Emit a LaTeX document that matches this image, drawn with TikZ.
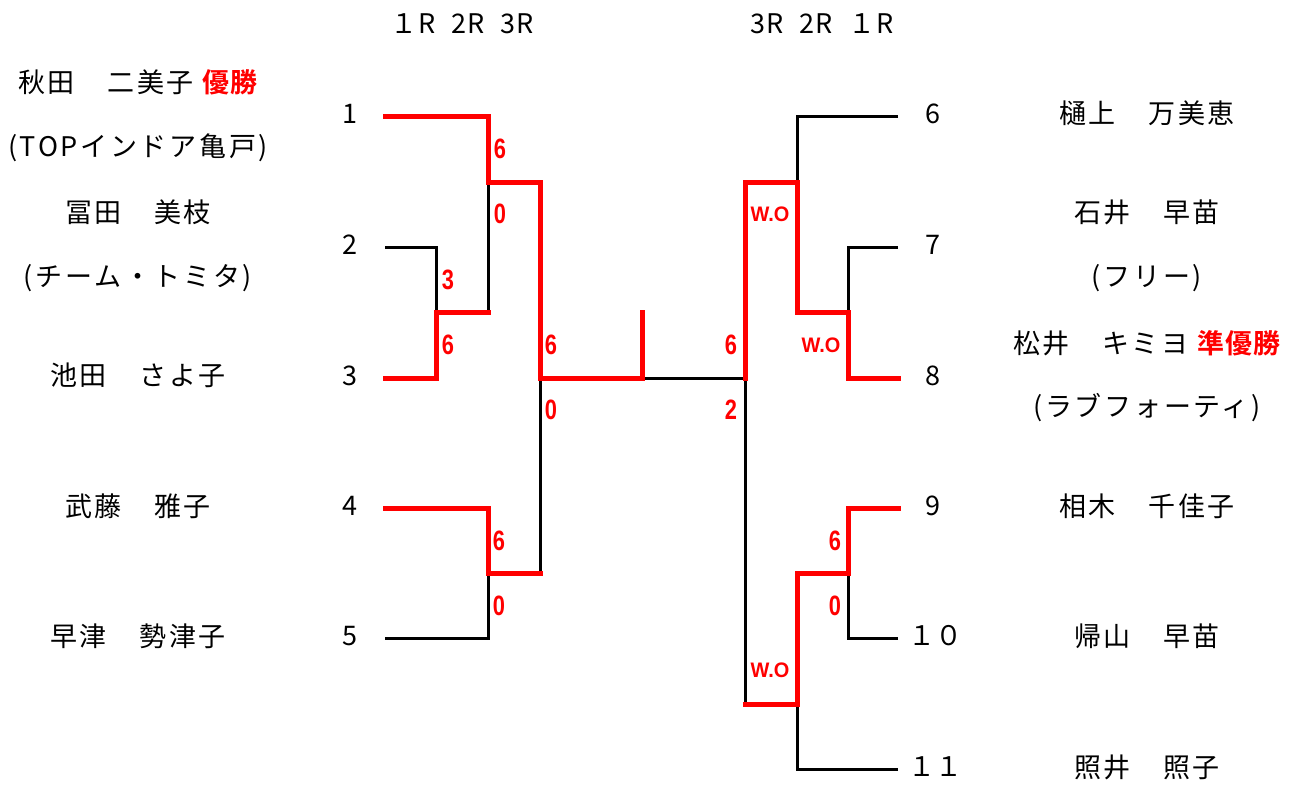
\documentclass[tikz,border=0pt]{standalone}
\usepackage{fontspec}
\newfontfamily\jp[LetterSpace=10]{Noto Sans CJK JP}
\newfontfamily\jpn{Noto Sans CJK JP}
\newfontfamily\jph[LetterSpace=6,WordSpace=2]{Noto Sans CJK JP}
\newfontfamily\jpb[LetterSpace=5]{Noto Sans CJK JP Bold}
\newfontfamily\scf{Liberation Sans}
\definecolor{winred}{RGB}{255,0,0}
\begin{document}
\begin{tikzpicture}[x=1pt,y=-1pt,
  winline/.style={draw=winred, line width=5pt, line join=miter, line cap=rect},
  loseline/.style={draw=black, line width=3pt},
  pname/.style={font=\jp\fontsize{27}{30}\selectfont, inner sep=0pt, anchor=center},
  seedno/.style={font=\jpn\fontsize{27}{30}\selectfont, inner sep=0pt, anchor=center},
  hdrtxt/.style={font=\jph\fontsize{27}{28}\selectfont, inner sep=0pt, anchor=center},
  scoretxt/.style={text=winred, font=\scf\bfseries\fontsize{28}{30}\selectfont, inner sep=0pt, anchor=center},
  wotxt/.style={text=winred, font=\scf\bfseries\fontsize{21}{22}\selectfont, inner sep=0pt, anchor=center}]
\useasboundingbox[fill=white] (0,0) rectangle (1300,785);

% headers
\node[hdrtxt] (hL) at (462,24) {１R 2R 3R};
\node[hdrtxt] (hR) at (822,24) {3R 2R １R};

% seed numbers
\node[seedno] (n1) at (350,114) {1};
\node[seedno] (n2) at (350,245) {2};
\node[seedno] (n3) at (350,376) {3};
\node[seedno] (n4) at (350,506) {4};
\node[seedno] (n5) at (350,636) {5};
\node[seedno] (n6) at (933,114) {6};
\node[seedno] (n7) at (933,245) {7};
\node[seedno] (n8) at (933,376) {8};
\node[seedno] (n9) at (933,506) {9};
\node[seedno] (n10) at (935,636) {１０};
\node[seedno] (n11) at (935,767) {１１};

% names left
\node[pname] (a1) at (138,82) {秋田　二美子 {\jpb\color{winred}優勝}};
\node[pname] (a1c) at (138,148) {(TOPインドア亀戸)};
\node[pname] (a2) at (138,212) {冨田　美枝};
\node[pname] (a2c) at (138,278) {(チーム・トミタ)};
\node[pname] (a3) at (138,375) {池田　さよ子};
\node[pname] (a4) at (138,506) {武藤　雅子};
\node[pname] (a5) at (138,636) {早津　勢津子};
% names right
\node[pname] (b6) at (1147,113) {樋上　万美恵};
\node[pname] (b7) at (1147,212) {石井　早苗};
\node[pname] (b7c) at (1147,278) {(フリー)};
\node[pname] (b8) at (1147,343) {松井　キミヨ {\jpb\color{winred}準優勝}};
\node[pname] (b8c) at (1147,408) {(ラブフォーティ)};
\node[pname] (b9) at (1147,506) {相木　千佳子};
\node[pname] (b10) at (1147,636) {帰山　早苗};
\node[pname] (b11) at (1147,767) {照井　照子};

% line end coordinates
\coordinate (p1) at (385,116);
\coordinate (p2) at (385,247);
\coordinate (p3) at (385,378);
\coordinate (p4) at (385,508);
\coordinate (p5) at (385,638);
\coordinate (p6) at (898,116);
\coordinate (p7) at (898,247);
\coordinate (p8) at (898,378);
\coordinate (p9) at (898,508);
\coordinate (p10) at (898,638);
\coordinate (p11) at (898,769);
% match points
\coordinate (m23) at (436,312);
\coordinate (m123) at (488,312);
\coordinate (m1) at (488,182);
\coordinate (s1) at (540,182);
\coordinate (m45) at (488,573);
\coordinate (s45) at (540,573);
\coordinate (fL) at (540,378);
\coordinate (fM) at (642,378);
\coordinate (fT) at (642,312);
\coordinate (fR) at (745,378);
\coordinate (m78) at (848,312);
\coordinate (m678) at (797,312);
\coordinate (m6) at (797,182);
\coordinate (s6) at (745,182);
\coordinate (m910) at (848,573);
\coordinate (m911) at (797,573);
\coordinate (m11) at (797,704);
\coordinate (s11) at (745,704);

% black (losing) lines
\draw[loseline] (p2) -| (m23);
\draw[loseline] (m123) -- (m1);
\draw[loseline] (p5) -| (m45);
\draw[loseline] (s45) -- (fL);
\draw[loseline] (fM) -- (fR);
\draw[loseline] (p6) -| (m6);
\draw[loseline] (p7) -| (m78);
\draw[loseline] (fR) -- (s11);
\draw[loseline] (p10) -| (m910);
\draw[loseline] (p11) -| (m11);

% red (winning) lines
\draw[winline] (p1) -| (m1) -- (s1) -- (fL) -- (fM) -- (fT);
\draw[winline] (p3) -| (m23) -- (m123);
\draw[winline] (p4) -| (m45) -- (s45);
\draw[winline] (p8) -| (m78) -- (m678) -- (m6) -- (s6) -- (fR);
\draw[winline] (p9) -| (m910) -- (m911) -- (m11) -- (s11);

% scores left
\node[scoretxt] (c1) at (500,149) {\scalebox{0.78}[1]{6}};
\node[scoretxt] (c2) at (500,214) {\scalebox{0.78}[1]{0}};
\node[scoretxt] (c3) at (448,280) {\scalebox{0.78}[1]{3}};
\node[scoretxt] (c4) at (448,345) {\scalebox{0.78}[1]{6}};
\node[scoretxt] (c5) at (551,345) {\scalebox{0.78}[1]{6}};
\node[scoretxt] (c6) at (551,410) {\scalebox{0.78}[1]{0}};
\node[scoretxt] (c7) at (499,541) {\scalebox{0.78}[1]{6}};
\node[scoretxt] (c8) at (499,606) {\scalebox{0.78}[1]{0}};
% scores right
\node[wotxt] (d1) at (770,214) {\scalebox{0.95}[1]{W.O}};
\node[scoretxt] (d2) at (731,345) {\scalebox{0.78}[1]{6}};
\node[wotxt] (d3) at (821,345) {\scalebox{0.95}[1]{W.O}};
\node[scoretxt] (d4) at (731,410) {\scalebox{0.78}[1]{2}};
\node[scoretxt] (d5) at (835,541) {\scalebox{0.78}[1]{6}};
\node[scoretxt] (d6) at (835,606) {\scalebox{0.78}[1]{0}};
\node[wotxt] (d7) at (770,670) {\scalebox{0.95}[1]{W.O}};
\end{tikzpicture}
\end{document}
